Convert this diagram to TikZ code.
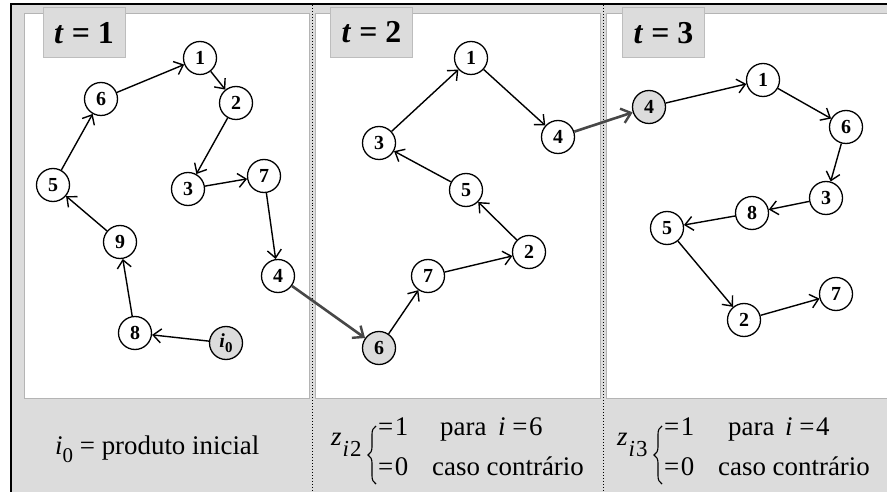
\documentclass[tikz,border=0pt]{standalone}
\usepackage{fontspec}
\setmainfont{Liberation Serif}
\usetikzlibrary{arrows.meta,decorations.pathreplacing}
\definecolor{lightg}{HTML}{DCDCDC}
\definecolor{boxb}{HTML}{BDBDBD}
\definecolor{panelb}{HTML}{B4B4B4}
\definecolor{darkg}{HTML}{474747}
\newcommand{\lowsub}[3]{\raisebox{-#1}{\fontsize{#2}{#2}\selectfont #3}}
\begin{document}
\begin{tikzpicture}[x=1bp,y=-1bp,
  nd/.style={circle,draw,line width=1.3bp,minimum size=33bp,inner sep=0pt,
    font=\fontsize{20}{20}\selectfont\bfseries,fill=white},
  hl/.style={nd,fill=lightg},
  ar/.style={-{Straight Barb[length=8bp,width=14bp,line width=1.4bp]},line width=1.4bp},
  gar/.style={-{Straight Barb[length=9bp,width=15bp,line width=2.4bp]},line width=2.6bp,draw=darkg},
  lbl/.style={draw=boxb,fill=lightg,line width=1bp,minimum width=82bp,minimum height=50bp,
    inner sep=0pt,font=\fontsize{32}{32}\selectfont\bfseries},
  txt/.style={font=\fontsize{27}{30}\selectfont,anchor=base west,inner sep=0pt},
  brc/.style={decorate,decoration={brace,amplitude=8bp},line width=1.1bp},
  pnl/.style={draw=panelb,fill=white,line width=1bp},
  divl/.style={dotted,line width=1bp}
]
\path[use as bounding box] (0,0) rectangle (887,492);
% frame
\fill[lightg] (11,4) rectangle (887,492);
\draw[line width=1.6bp] (11,492) -- (11,4) -- (887,4);
\draw[pnl] (24,14) rectangle (309,398);
\draw[pnl] (315,14) rectangle (600,398);
\draw[pnl] (606,14) rectangle (897,398);
\draw[divl] (312,5) -- (312,492);
\draw[divl] (603,5) -- (603,492);
% titles
\node[lbl] (t1) at (84,33) {\textit{t} = 1};
\node[lbl] (t2) at (371.5,32.5) {\textit{t} = 2};
\node[lbl] (t3) at (663.5,33) {\textit{t} = 3};
% panel 1
\node[nd] (a1) at (200,58) {1};
\node[nd] (a2) at (236,103) {2};
\node[nd] (a6) at (101,99) {6};
\node[nd] (a5) at (53,185) {5};
\node[nd] (a3) at (188,189) {3};
\node[nd] (a7) at (264,176) {7};
\node[nd] (a9) at (120,242) {9};
\node[nd] (a4) at (278,276) {4};
\node[nd] (a8) at (135,333) {8};
\node[hl] (a0) at (226,343) {\textit{i}\lowsub{5bp}{15}{0}};
% panel 2
\node[nd] (b1) at (471,58) {1};
\node[nd] (b4) at (558,137) {4};
\node[nd] (b3) at (379,143) {3};
\node[nd] (b5) at (466,190) {5};
\node[nd] (b2) at (529,252) {2};
\node[nd] (b7) at (428,276) {7};
\node[hl] (b6) at (379,348) {6};
% panel 3
\node[hl] (c4) at (649,107) {4};
\node[nd] (c1) at (763,80) {1};
\node[nd] (c6) at (846,127) {6};
\node[nd] (c3) at (826,198) {3};
\node[nd] (c8) at (752,213) {8};
\node[nd] (c5) at (667,228) {5};
\node[nd] (c2) at (744,320) {2};
\node[nd] (c7) at (836,294) {7};
% edges panel 1
\draw[ar] (a0) -- (a8);
\draw[ar] (a8) -- (a9);
\draw[ar] (a9) -- (a5);
\draw[ar] (a5) -- (a6);
\draw[ar] (a6) -- (a1);
\draw[ar] (a1) -- (a2);
\draw[ar] (a2) -- (a3);
\draw[ar] (a3) -- (a7);
\draw[ar] (a7) -- (a4);
% edges panel 2
\draw[ar] (b6) -- (b7);
\draw[ar] (b7) -- (b2);
\draw[ar] (b2) -- (b5);
\draw[ar] (b5) -- (b3);
\draw[ar] (b3) -- (b1);
\draw[ar] (b1) -- (b4);
% edges panel 3
\draw[ar] (c4) -- (c1);
\draw[ar] (c1) -- (c6);
\draw[ar] (c6) -- (c3);
\draw[ar] (c3) -- (c8);
\draw[ar] (c8) -- (c5);
\draw[ar] (c5) -- (c2);
\draw[ar] (c2) -- (c7);
% transitions
\draw[gar] (a4) -- (b6);
\draw[gar] (b4) -- (c4);
% bottom texts
\node[txt] (l1) at (55,454) {\textit{i}\lowsub{8bp}{21}{0} = produto inicial};
% panel 2 bottom
\node[txt] (z2) at (331,445) {\textit{z}\kern1bp\lowsub{11bp}{23}{\textit{i}\kern1bp2}};
\coordinate (br2a) at (376,484);
\coordinate (br2b) at (376,426);
\draw[brc] (br2a) -- (br2b);
\node[txt] (e21) at (378,435) {=\kern1.5bp1};
\node[txt] (p2) at (440,435) {para};
\node[txt] (i2) at (498,435) {\textit{i} =\kern1.5bp6};
\node[txt] (e20) at (378,475) {=\kern1.5bp0};
\node[txt] (k2) at (432,475) {caso contrário};
% panel 3 bottom
\node[txt] (z3) at (617,445) {\textit{z}\kern1bp\lowsub{11bp}{23}{\textit{i}\kern1bp3}};
\coordinate (br3a) at (662,484);
\coordinate (br3b) at (662,426);
\draw[brc] (br3a) -- (br3b);
\node[txt] (e31) at (664,435) {=\kern1.5bp1};
\node[txt] (p3) at (728,435) {para};
\node[txt] (i3) at (785,435) {\textit{i} =\kern1.5bp4};
\node[txt] (e30) at (664,475) {=\kern1.5bp0};
\node[txt] (k3) at (718,475) {caso contrário};
\end{tikzpicture}
\end{document}
